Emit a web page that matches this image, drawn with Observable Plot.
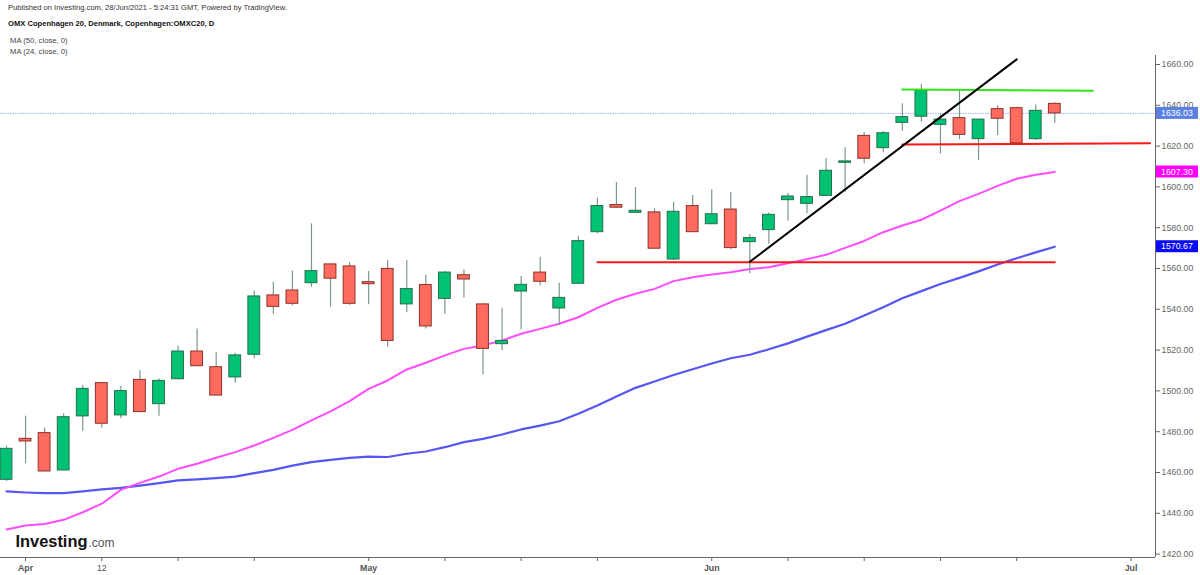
<!DOCTYPE html>
<html><head><meta charset="utf-8">
<script src="https://cdn.jsdelivr.net/npm/d3@7"></script>
<script src="https://cdn.jsdelivr.net/npm/@observablehq/plot@0.6"></script>
<style>
body{margin:0;background:#fff;font-family:"Liberation Sans",Arial,sans-serif;}
#hdr{position:relative;height:55px;width:1200px;}
#hdr div{position:absolute;white-space:nowrap;line-height:1;}
#chart{width:1200px;height:520px;}
</style>
</head><body>
<div id="hdr">
  <div style="left:8px;top:3.6px;font-size:7.6px;color:#333">Published on Investing.com, 28/Jun/2021 - 5:24:31 GMT, Powered by TradingView.</div>
  <div style="left:8px;top:19.6px;font-size:7.6px;font-weight:bold;color:#111">OMX Copenhagen 20, Denmark, Copenhagen:OMXC20, D</div>
  <div style="left:10px;top:36.6px;font-size:7.7px;color:#444">MA (50, close, 0)</div>
  <div style="left:10px;top:47.6px;font-size:7.7px;color:#444">MA (24, close, 0)</div>
</div>
<div id="chart"></div>
<script>
// ---- data ----
const dates = ["2021-03-31","2021-04-06","2021-04-07","2021-04-08","2021-04-09","2021-04-12","2021-04-13","2021-04-14","2021-04-15","2021-04-16",
"2021-04-19","2021-04-20","2021-04-21","2021-04-22","2021-04-23","2021-04-26","2021-04-27","2021-04-28","2021-04-29","2021-05-03",
"2021-05-04","2021-05-05","2021-05-06","2021-05-07","2021-05-10","2021-05-11","2021-05-12","2021-05-17","2021-05-18","2021-05-19",
"2021-05-20","2021-05-21","2021-05-25","2021-05-26","2021-05-27","2021-05-28","2021-05-31","2021-06-01","2021-06-02","2021-06-03",
"2021-06-04","2021-06-07","2021-06-08","2021-06-09","2021-06-10","2021-06-11","2021-06-14","2021-06-15","2021-06-16","2021-06-17",
"2021-06-18","2021-06-21","2021-06-22","2021-06-23","2021-06-24","2021-06-25"];
const futureDates = ["2021-06-28","2021-06-29","2021-06-30","2021-07-01","2021-07-02"];

const open  = [1456.4,1476.5,1479.3,1461.0,1487.5,1503.8,1488.0,1505.4,1493.5,1505.7,
1519.3,1511.6,1506.6,1517.7,1546.8,1549.2,1552.8,1562.0,1561.0,1553.3,
1559.8,1542.4,1551.9,1545.1,1556.7,1542.4,1522.9,1548.7,1558.0,1540.4,
1552.5,1577.8,1591.1,1587.3,1587.5,1564.4,1590.6,1581.7,1588.9,1572.9,
1578.8,1593.5,1591.7,1595.6,1611.8,1625.0,1619.0,1631.4,1634.4,1630.4,
1633.7,1623.4,1638.1,1638.6,1623.4,1640.7];
const high  = [1473.0,1487.6,1481.8,1488.8,1502.6,1504.0,1502.3,1510.0,1505.8,1521.9,
1530.4,1518.7,1518.5,1548.9,1553.3,1558.7,1581.9,1562.0,1562.9,1558.5,
1563.9,1563.9,1556.7,1558.5,1559.4,1542.9,1540.5,1556.1,1565.5,1552.8,
1575.8,1594.5,1602.2,1599.7,1589.3,1592.5,1595.8,1598.6,1597.3,1576.7,
1587.2,1596.9,1605.7,1613.9,1619.2,1626.7,1627.1,1640.7,1650.2,1635.8,
1647.6,1633.0,1639.8,1639.1,1640.2,1641.2];
const low   = [1455.6,1464.3,1460.5,1461.0,1480.2,1481.8,1486.3,1489.6,1487.6,1505.7,
1512.1,1497.7,1503.8,1515.7,1537.5,1541.7,1550.8,1541.0,1541.9,1542.2,
1521.4,1538.3,1530.3,1537.5,1545.5,1507.9,1519.8,1530.0,1551.5,1532.1,
1552.3,1577.0,1589.8,1587.3,1569.7,1563.9,1577.8,1581.7,1569.2,1557.4,
1571.8,1583.2,1586.8,1595.6,1597.4,1611.3,1616.7,1627.3,1631.7,1616.2,
1623.1,1612.9,1625.2,1620.3,1622.7,1631.2];
const close = [1471.6,1475.2,1460.5,1487.1,1501.0,1483.9,1499.9,1489.6,1504.9,1519.3,
1512.1,1497.7,1517.4,1546.3,1541.2,1542.7,1558.7,1555.0,1542.7,1552.3,
1524.5,1549.9,1531.6,1558.0,1554.6,1520.6,1524.5,1552.0,1553.5,1545.6,
1573.4,1590.6,1589.8,1588.3,1569.7,1587.8,1577.8,1586.6,1570.0,1574.9,
1586.3,1595.3,1595.0,1607.9,1612.5,1613.8,1626.3,1634.2,1647.1,1633.0,
1625.5,1633.0,1633.4,1621.4,1637.3,1636.03];

const ma24 = [1432.1,1434.0,1434.8,1436.8,1440.5,1444.7,1451.5,1454.9,1458.0,1461.8,
1464.3,1467.2,1470.0,1473.2,1477.0,1480.9,1485.5,1490.0,1495.0,1501.0,
1505.1,1510.5,1513.8,1517.4,1520.6,1522.3,1524.7,1528.0,1530.4,1532.9,
1536.1,1540.7,1544.7,1547.6,1550.0,1553.8,1555.7,1557.1,1558.2,1559.8,
1560.6,1562.6,1564.6,1566.7,1570.1,1573.5,1577.8,1581.1,1583.9,1588.4,
1593.0,1596.6,1600.5,1604.0,1606.0,1607.30];
const ma50 = [1450.7,1450.2,1449.9,1449.9,1450.7,1451.7,1452.5,1453.6,1454.8,1456.1,
1456.6,1457.2,1458.0,1459.7,1461.3,1463.4,1465.1,1466.2,1467.2,1467.8,
1467.6,1469.2,1470.3,1472.4,1474.9,1476.5,1478.6,1481.1,1483.0,1485.1,
1488.8,1492.8,1497.3,1501.5,1504.6,1507.8,1510.6,1513.4,1516.0,1517.7,
1520.4,1523.3,1526.6,1529.8,1532.9,1537.0,1541.0,1545.4,1548.9,1552.4,
1555.4,1558.6,1562.0,1565.0,1567.9,1570.67];

// drawn trend lines: [startDate, startValue, endDate, endValue]
const supportLine   = ["2021-05-21",1563.1,"2021-06-25",1563.1];
const trendLine     = ["2021-06-03",1563.3,"2021-06-23",1662.5];
const resistLine    = ["2021-06-15",1647.7,"2021-06-29",1647.1];
const rangeLowLine  = ["2021-06-15",1620.8,"2021-07-02",1621.4];

const monthTickDates  = ["2021-04-06","2021-05-03","2021-06-01","2021-07-01"];
const monthTickLabels = ["Apr","May","Jun","Jul"];
const dayTickDates    = ["2021-04-12","2021-04-16","2021-04-22","2021-05-07","2021-05-17","2021-05-21","2021-06-07","2021-06-11","2021-06-17","2021-06-23"];
const dayTickLabels   = ["12","","","","","","","","",""];
const yTicks = [1420,1440,1460,1480,1500,1520,1540,1560,1580,1600,1620,1640,1660];

// ---- build ----
const allDays = dates.concat(futureDates);
const idx = d => allDays.indexOf(d);
const candles = dates.map((d,i)=>({i, open:open[i], high:high[i], low:low[i], close:close[i], up: close[i] >= open[i]}));
const seg = s => [{x: idx(s[0]), y: s[1]}, {x: idx(s[2]), y: s[3]}];
const monthTicks = monthTickDates.map(idx);
const dayTicks = dayTickDates.map(idx);
const tickLabel = new Map([...monthTicks.map((t,k)=>[t,monthTickLabels[k]]), ...dayTicks.map((t,k)=>[t,dayTickLabels[k]])]);

const W = 1200, H = 520, mR = 45, mB = 18;
const xDomain = [-0.315, 60.283];
const yDomain = [1418.33, 1664.41];
const bodyHalf = 0.31;
const green = "#00c274", greenEdge = "#24704f", red = "#ff6b5f", redEdge = "#8e3129", wick = "#7d988b";
const FONT = '"Liberation Sans", Arial, sans-serif';
const AX = 8.8;

const chart = Plot.plot({
  width: W, height: H,
  marginLeft: 0, marginRight: mR, marginTop: 0, marginBottom: mB,
  style: {fontFamily: FONT, fontSize: AX + "px", background: "#fff", color: "#555", overflow: "visible"},
  x: {type: "linear", domain: xDomain, axis: null},
  y: {domain: yDomain, axis: null},
  marks: [
    Plot.ruleY([close[close.length-1]], {stroke: "#9db5f3", strokeWidth: 1, strokeDasharray: "1.5,1"}),
    Plot.line(candles, {x: "i", y: d => ma50[d.i], stroke: "#5656f2", strokeWidth: 2.2}),
    Plot.line(candles, {x: "i", y: d => ma24[d.i], stroke: "#ff4cff", strokeWidth: 2}),
    Plot.ruleX(candles, {x: "i", y1: "low", y2: "high", stroke: wick, strokeWidth: 1.2}),
    Plot.rect(candles, {x1: d => d.i - bodyHalf, x2: d => d.i + bodyHalf, y1: "open", y2: "close",
      fill: d => d.up ? green : red, stroke: d => d.up ? greenEdge : redEdge, strokeWidth: 1}),
    Plot.line(seg(supportLine), {x: "x", y: "y", stroke: "#ff1717", strokeWidth: 2}),
    Plot.line(seg(rangeLowLine), {x: "x", y: "y", stroke: "#ff1717", strokeWidth: 2}),
    Plot.line(seg(resistLine), {x: "x", y: "y", stroke: "#2fe61a", strokeWidth: 2}),
    Plot.line(seg(trendLine), {x: "x", y: "y", stroke: "#000", strokeWidth: 2}),
    Plot.ruleY([yDomain[0]], {stroke: "#666", strokeWidth: 1}),
    Plot.ruleX([xDomain[1]], {stroke: "#666", strokeWidth: 1}),
    Plot.axisX(monthTicks, {anchor: "bottom", tickSize: 4, tickPadding: 3, tickFormat: t => tickLabel.get(t), fontWeight: "bold", fontSize: AX, fill: "#555", stroke: "#666", label: null}),
    Plot.axisX(dayTicks, {anchor: "bottom", tickSize: 4, tickPadding: 3, tickFormat: t => tickLabel.get(t), fontSize: AX, fill: "#555", stroke: "#666", label: null}),
    Plot.axisY(yTicks, {anchor: "right", tickSize: 4, tickPadding: 2, tickFormat: d => d.toFixed(2), fontSize: AX, fill: "#666", stroke: "#666", label: null}),
    Plot.text(["Investing"], {frameAnchor: "bottom-left", dx: 15, dy: -11, text: d => d, fontSize: 16.4, fontWeight: "bold", fill: "#111", textAnchor: "start", lineAnchor: "bottom"}),
    Plot.text([".com"], {frameAnchor: "bottom-left", dx: 88, dy: -11, text: d => d, fontSize: 12, fill: "#555", textAnchor: "start", lineAnchor: "bottom"})
  ]
});
document.getElementById("chart").appendChild(chart);

// value badges on the price scale
const badgeValues = [close[close.length-1], ma24[ma24.length-1], ma50[ma50.length-1]];
const badgeColors = ["#5a80e4", "#ff00ff", "#0a0af2"];
const ys = chart.scale("y");
const svg = d3.select(chart);
badgeValues.forEach((v,k) => {
  const y = ys.apply(v);
  const g = svg.append("g").attr("text-anchor", "start");
  g.append("rect").attr("x", W - mR + 1).attr("y", y - 6).attr("width", 42).attr("height", 12).attr("fill", badgeColors[k]);
  g.append("text").attr("x", W - mR + 6).attr("y", y).attr("dy", "0.36em").attr("fill", "#fff")
    .attr("text-anchor", "start").attr("font-size", AX).attr("font-family", FONT).text(v.toFixed(2));
});
</script>
</body></html>
